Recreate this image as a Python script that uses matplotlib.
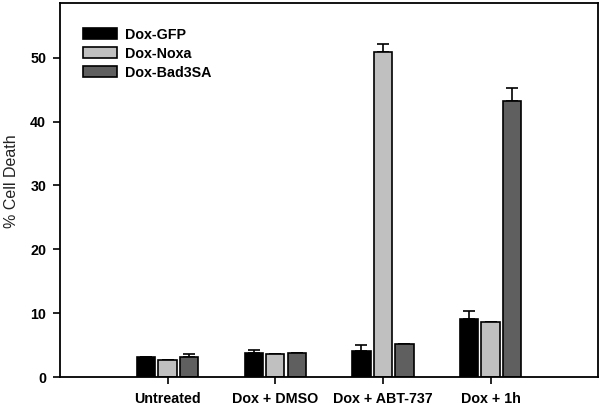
import numpy as np
import matplotlib
matplotlib.use('Agg')
import matplotlib.pyplot as plt

plt.rcParams['font.family'] = ['Liberation Sans', 'DejaVu Sans']

categories = ['Untreated', 'Dox + DMSO', 'Dox + ABT-737', 'Dox + 1h']
series_names = ['Dox-GFP', 'Dox-Noxa', 'Dox-Bad3SA']
gfp = [3.1, 3.7, 4.1, 9.1]
noxa = [2.7, 3.6, 50.9, 8.6]
bad3sa = [3.2, 3.7, 5.2, 43.3]
gfp_err = [0.0, 0.5, 0.9, 1.3]
noxa_err = [0.0, 0.0, 1.3, 0.0]
bad3sa_err = [0.4, 0.0, 0.0, 1.9]
yticks = [0, 10, 20, 30, 40, 50]

colors = ['#000000', '#c0c0c0', '#5f5f5f']

fig = plt.figure(figsize=(6, 4.05), dpi=100)
ax = fig.add_axes([0.1, 0.069, 0.897, 0.924])

x = np.arange(1, len(categories) + 1)
width = 0.17
step = 0.2
for i, (vals, errs) in enumerate(zip([gfp, noxa, bad3sa], [gfp_err, noxa_err, bad3sa_err])):
    pos = x + (i - 1) * step
    errs = np.array(errs)
    ax.bar(pos, vals, width, color=colors[i], edgecolor='black', linewidth=1.2,
           label=series_names[i], zorder=2)
    ax.errorbar(pos, vals, yerr=[np.zeros_like(errs), errs], fmt='none',
                ecolor='black', elinewidth=1.2, capsize=4, capthick=1.2, zorder=1)

ax.set_xlim(0, 5)
ax.set_ylim(0, 58.6)
ax.set_xticks(x)
ax.set_xticklabels(categories, fontsize=10.3, fontweight='bold')
ax.set_yticks(yticks)
ax.set_yticklabels([str(t) for t in yticks], fontsize=10.3, fontweight='bold')
ax.tick_params(direction='out', length=5, width=1.2)
ax.tick_params(axis='x', pad=6)
ax.tick_params(axis='y', pad=5)
for s in ax.spines.values():
    s.set_linewidth(1.3)
ax.set_ylabel('% Cell Death', fontsize=11.5, color='#222222')
ax.yaxis.set_label_coords(-0.076, 0.524)

leg = ax.legend(loc='upper left', bbox_to_anchor=(0.019, 0.968), frameon=False,
                prop={'size': 10.3, 'weight': 'bold'}, handlelength=2.35,
                handleheight=0.8, labelspacing=0.35, handletextpad=0.55)

fig.savefig('out.png', dpi=100)
